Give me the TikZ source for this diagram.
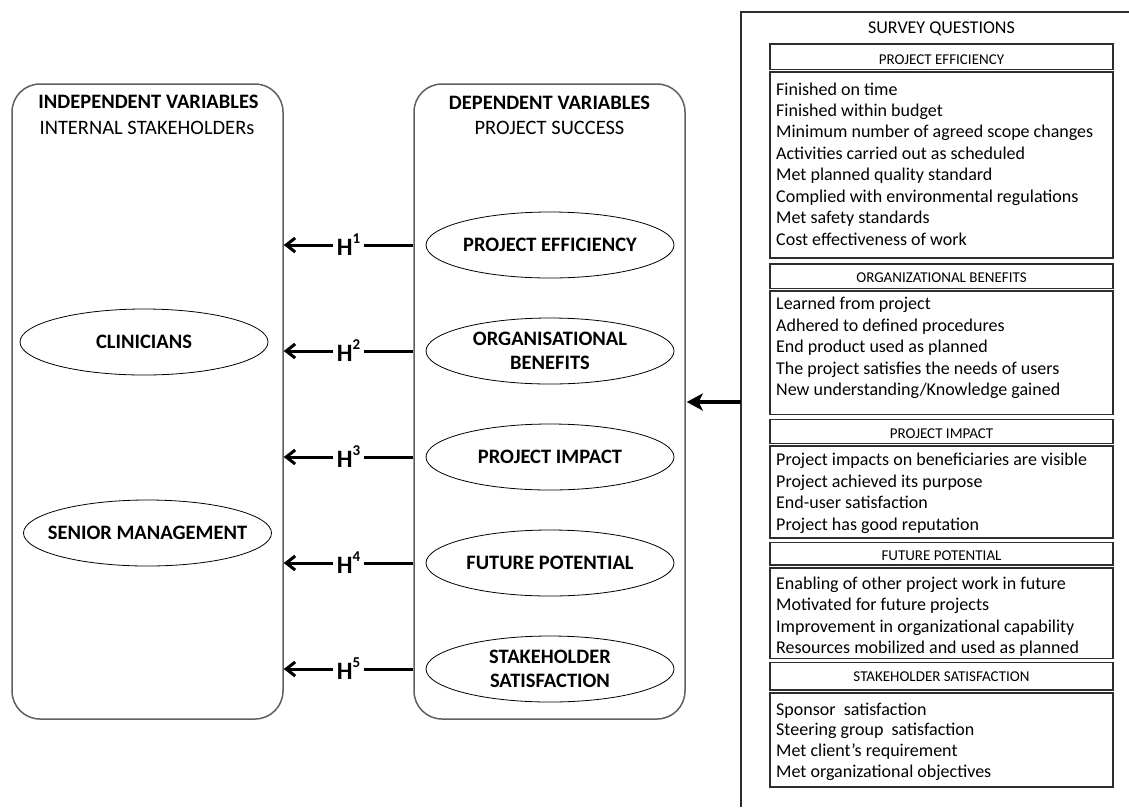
\documentclass[tikz,border=0pt]{standalone}
\usepackage{fontspec}
\setmainfont{Carlito}
\usetikzlibrary{shapes.geometric,arrows.meta}
\definecolor{boxgray}{RGB}{95,95,95}
\definecolor{secgray}{RGB}{45,45,45}
\begin{document}
\begin{tikzpicture}[x=1pt,y=-1pt,
  bigbox/.style={draw=boxgray, line width=1.5pt, rounded corners=28pt, minimum width=271pt, minimum height=635pt, inner sep=0pt},
  ell/.style={ellipse, draw, line width=0.8pt, minimum width=248pt, minimum height=66pt, inner sep=0pt},
  elltext/.style={font=\fontsize{20.5}{24}\selectfont\bfseries, align=center, inner sep=0pt},
  titletext/.style={font=\fontsize{20.5}{24}\selectfont\bfseries, inner sep=0pt},
  subtext/.style={font=\fontsize{20.5}{24}\selectfont, inner sep=0pt},
  harrow/.style={line width=3pt, -{Straight Barb[length=9pt,width=14pt]}},
  hlabel/.style={fill=white, inner xsep=4pt, inner ysep=1pt, font=\fontsize{25}{28}\selectfont\bfseries},
  bigarrow/.style={line width=4pt, -{Stealth[length=16pt,width=17pt,inset=4pt]}},
  hdr/.style={draw=secgray, line width=1.2pt, minimum width=343pt, inner sep=0pt},
  cbox/.style={draw=secgray, line width=1.2pt, minimum width=343pt, inner sep=0pt},
  hdrtext/.style={font=\fontsize{15}{17}\selectfont, inner sep=0pt},
  item/.style={font=\fontsize{18}{21}\selectfont, inner sep=0pt, anchor=base west},
  surveytext/.style={font=\fontsize{18}{21}\selectfont, inner sep=0pt}
]
\useasboundingbox (0,0) rectangle (1129,807);
\fill[white] (0,0) rectangle (1129,807);

% outer survey frame
\coordinate (frameTR) at (1129,12);
\coordinate (frameTL) at (741,12);
\coordinate (frameBL) at (741,807);
\draw[secgray, line width=1.4pt] (frameTR) -- (frameTL) -- (frameBL);
\node[surveytext] (survey) at (941.5,29) {SURVEY QUESTIONS};

% big boxes
\node[bigbox] (indep) at (147.5,401.5) {};
\node[bigbox] (dep) at (549.5,401.5) {};

\node[titletext] (indeptitle) at (148.5,102) {INDEPENDENT VARIABLES};
\node[subtext] (indepsub) at (147,128) {INTERNAL STAKEHOLDERs};
\node[titletext] (deptitle) at (549.5,103) {DEPENDENT VARIABLES};
\node[subtext] (depsub) at (549.5,128) {PROJECT SUCCESS};

% independent ellipses
\node[ell] (clin) at (144,342) {};
\node[elltext] (clintext) at (clin) {CLINICIANS};
\node[ell] (senior) at (147.5,533) {};
\node[elltext] (seniortext) at (senior) {SENIOR MANAGEMENT};

% dependent ellipses
\node[ell] (pe) at (550,245) {};
\node[elltext] (petext) at (pe) {PROJECT EFFICIENCY};
\node[ell] (ob) at (550,351) {};
\node[elltext] (obtext) at (ob) {ORGANISATIONAL\\BENEFITS};
\node[ell] (pi) at (550,457) {};
\node[elltext] (pitext) at (pi) {PROJECT IMPACT};
\node[ell] (fp) at (550,563) {};
\node[elltext] (fptext) at (fp) {FUTURE POTENTIAL};
\node[ell] (ss) at (550,669) {};
\node[elltext] (sstext) at (ss) {STAKEHOLDER\\SATISFACTION};

% hypotheses arrows
\foreach \e/\n in {pe/1,ob/2,pi/3,fp/4,ss/5}{
  \draw[harrow] (dep.west |- \e) -- (indep.east |- \e)
    node[hlabel, pos=0.5] (h\n) {H\raisebox{12pt}{\fontsize{15}{15}\selectfont\n}};
}

% big arrow from survey to dependent variables
\coordinate (survsrc) at (741,402);
\draw[bigarrow] (survsrc) -- ([xshift=1pt]dep.east |- survsrc);

% survey sections
% Project efficiency
\node[hdr, minimum height=25.5pt] (peh) at (941.5,56.75) {};
\node[hdrtext] (pehtext) at (941.5,60) {PROJECT EFFICIENCY};
\node[cbox, minimum height=186pt] (pec) at (941.5,165) {};
\foreach \t [count=\i from 0] in {Finished on time, Finished within budget, Minimum number of agreed scope changes, Activities carried out as scheduled, Met planned quality standard, Complied with environmental regulations, Met safety standards, Cost effectiveness of work}
  \node[item] (pei\i) at (776,89.3+5.8+21.43*\i) {\t};

% Organizational benefits
\node[hdr, minimum height=24.5pt] (obh) at (941.5,276.25) {};
\node[hdrtext] (obhtext) at (941.5,277.7) {ORGANIZATIONAL BENEFITS};
\node[cbox, minimum height=123.5pt] (obc) at (941.5,352.75) {};
\foreach \t [count=\i from 0] in {Learned from project, Adhered to defined procedures, End product used as planned, The project satisfies the needs of users, New understanding/Knowledge gained}
  \node[item] (obi\i) at (776,304+5.8+21.5*\i) {\t};

% Project impact
\node[hdr, minimum height=24pt] (pih) at (941.5,431.5) {};
\node[hdrtext] (pihtext) at (941.5,433.3) {PROJECT IMPACT};
\node[cbox, minimum height=92pt] (pic) at (941.5,492) {};
\foreach \t [count=\i from 0] in {Project impacts on beneficiaries are visible, Project achieved its purpose, End-user satisfaction, Project has good reputation}
  \node[item] (pii\i) at (776,460+5.8+21.4*\i) {\t};

% Future potential
\node[hdr, minimum height=22.5pt] (fph) at (941.5,553.75) {};
\node[hdrtext] (fphtext) at (941.5,555.7) {FUTURE POTENTIAL};
\node[cbox, minimum height=90.5pt] (fpc) at (941.5,613.25) {};
\foreach \t [count=\i from 0] in {Enabling of other project work in future, Motivated for future projects, Improvement in organizational capability, Resources mobilized and used as planned}
  \node[item] (fpi\i) at (776,583.3+5.8+21.45*\i) {\t};

% Stakeholder satisfaction
\node[hdr, minimum height=27.3pt] (ssh) at (941.5,676.35) {};
\node[hdrtext] (sshtext) at (941.5,676.7) {STAKEHOLDER SATISFACTION};
\node[cbox, minimum height=94pt] (ssc) at (941.5,740) {};
\foreach \t [count=\i from 0] in {Sponsor~ satisfaction, Steering group~ satisfaction, Met client's requirement, Met organizational objectives}
  \node[item] (ssi\i) at (776,709.3+5.8+20.8*\i) {\t};
\end{tikzpicture}
\end{document}
